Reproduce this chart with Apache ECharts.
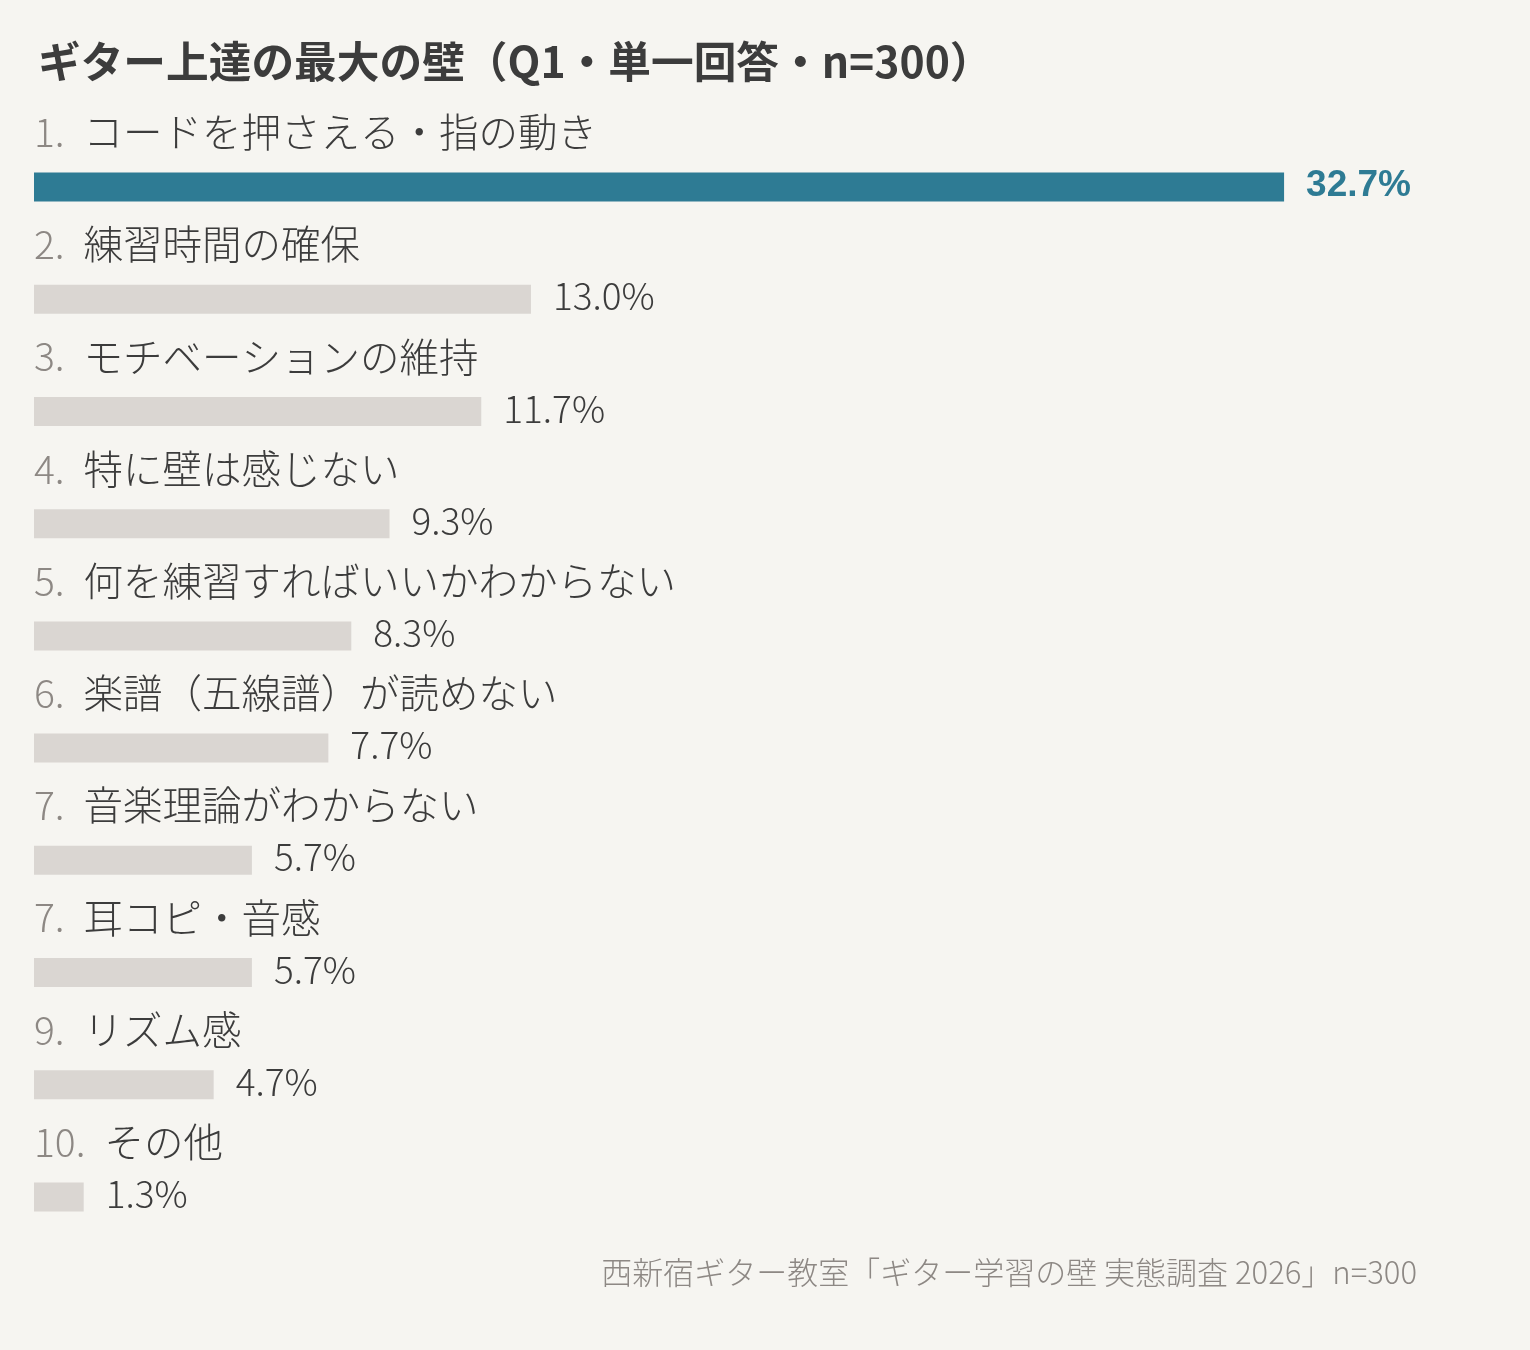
<!DOCTYPE html>
<html lang="ja">
<head>
<meta charset="UTF-8">
<title>ギター上達の最大の壁</title>
<script src="https://cdn.jsdelivr.net/npm/echarts@6/dist/echarts.min.js"></script>
<style>
  * { margin: 0; padding: 0; }
  html, body { width: 100%; height: 100%; background: #f6f5f1; }
  #main { width: 1530px; height: 1350px; }
</style>
</head>
<body>
<div id="main"></div>
<script>
var ranks = ['1', '2', '3', '4', '5', '6', '7', '7', '9', '10'];
var categories = [
  'コードを押さえる・指の動き',
  '練習時間の確保',
  'モチベーションの維持',
  '特に壁は感じない',
  '何を練習すればいいかわからない',
  '楽譜（五線譜）が読めない',
  '音楽理論がわからない',
  '耳コピ・音感',
  'リズム感',
  'その他'
];
var values = [32.7, 13.0, 11.7, 9.3, 8.3, 7.7, 5.7, 5.7, 4.7, 1.3];
var highlightIndex = 0;

var JP = '"Noto Sans CJK JP", "Noto Sans", sans-serif';
var teal = '#2e7b94';
var grey = '#dad6d2';

var chart = echarts.init(document.getElementById('main'));

var barData = values.map(function (v, i) {
  var hl = i === highlightIndex;
  return {
    value: v,
    itemStyle: { color: hl ? teal : grey },
    label: hl ? {
      color: teal, fontFamily: '"Liberation Sans", Arial, sans-serif',
      fontWeight: 'bold', fontSize: 37, offset: [0, -1]
    } : {
      color: '#3c3c3c', fontFamily: JP, fontWeight: 300, fontSize: 37, offset: [0, -3]
    }
  };
});

chart.setOption({
  backgroundColor: '#f6f5f1',
  animation: false,
  title: [{
    text: 'ギター上達の最大の壁（Q1・単一回答・n=300）',
    left: 33, top: 35,
    textStyle: { fontFamily: JP, fontWeight: 'bold', fontSize: 42.7, color: '#3c3c3c' }
  }, {
    text: '西新宿ギター教室「ギター学習の壁 実態調査 2026」n=300',
    right: 108, top: 1252,
    textStyle: { fontFamily: JP, fontWeight: 300, fontSize: 31, color: '#8d8884' }
  }],
  grid: { left: 34, top: 131, width: 1338, height: 1122, containLabel: false },
  xAxis: {
    type: 'value', min: 0, max: 35,
    show: false
  },
  yAxis: {
    type: 'category', inverse: true, data: categories,
    axisLine: { show: false }, axisTick: { show: false }, splitLine: { show: false },
    axisLabel: {
      inside: true, margin: 0, align: 'left', verticalAlign: 'bottom',
      padding: [0, 0, 34, 0],
      formatter: function (val, idx) {
        return '{n|' + ranks[idx] + '.}{t|' + val + '}';
      },
      rich: {
        n: { fontFamily: JP, fontWeight: 300, fontSize: 39, color: '#8d8884', lineHeight: 42 },
        t: { fontFamily: JP, fontWeight: 300, fontSize: 39.5, color: '#3c3c3c', lineHeight: 42, padding: [0, 0, 0, 19] }
      }
    },
    z: 10
  },
  series: [{
    type: 'bar',
    data: barData,
    barWidth: 29,
    label: {
      show: true, position: 'right', distance: 22,
      formatter: function (p) { return p.value.toFixed(1) + '%'; }
    }
  }]
});
</script>
</body>
</html>
